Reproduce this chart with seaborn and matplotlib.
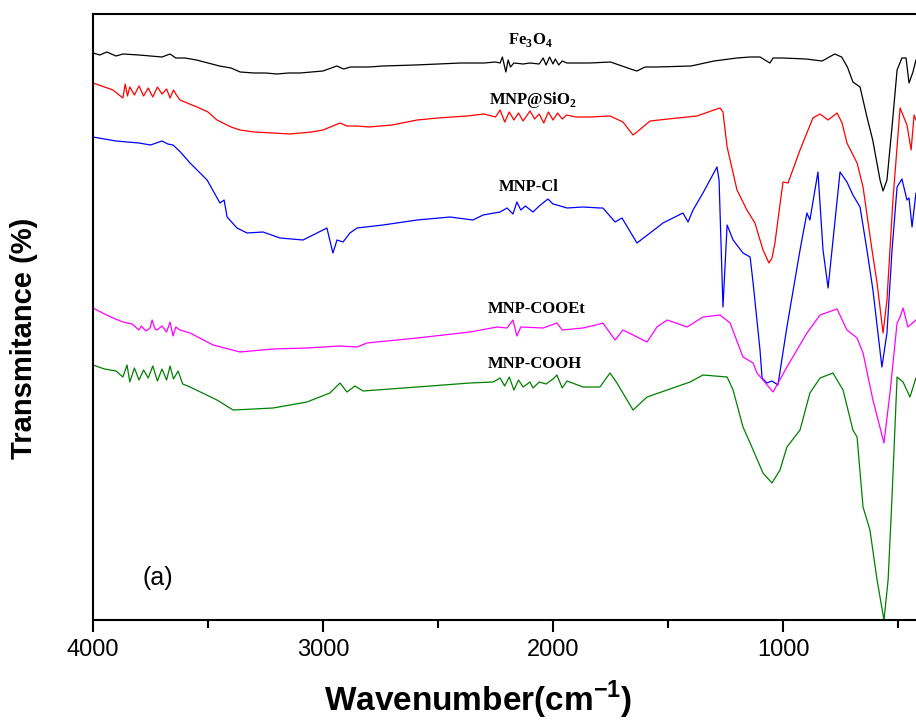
import numpy as np
import pandas as pd
import seaborn as sns
import matplotlib.pyplot as plt
from matplotlib.ticker import FixedLocator

sns.set_style("ticks")
plt.rcParams["font.family"] = ["Liberation Sans", "DejaVu Sans"]
plt.rcParams["mathtext.fontset"] = "custom"
plt.rcParams["mathtext.rm"] = "Liberation Serif:bold"
plt.rcParams["mathtext.sf"] = "Liberation Sans:bold"
for k in ["text.color", "axes.labelcolor", "xtick.color", "ytick.color", "axes.edgecolor"]:
    plt.rcParams[k] = "black"

fe3o4_wn = [4000, 3970, 3940, 3900, 3870, 3800, 3700, 3665, 3640, 3600, 3550, 3500, 3450, 3400,
            3360, 3300, 3250, 3200, 3150, 3100, 3050, 3000, 2940, 2910, 2880, 2800, 2740, 2600,
            2500, 2400, 2300, 2250, 2230, 2220, 2205, 2195, 2185, 2170, 2130, 2100, 2060, 2043,
            2030, 2015, 2000, 1990, 1975, 1960, 1940, 1870, 1840, 1750, 1700, 1650, 1635, 1600,
            1550, 1400, 1300, 1200, 1143, 1100, 1057, 1043, 1000, 900, 830, 775, 745, 720, 696,
            665, 635, 610, 578, 565, 548, 526, 504, 483, 465, 452, 435, 422]
fe3o4_t = [567, 565, 568, 564, 566, 565, 563, 566, 562, 562, 560, 557, 554, 552,
           548, 547, 547, 546, 547, 547, 548, 549, 554, 551, 553, 553, 554, 555,
           556, 557, 557, 558, 557, 563, 548, 560, 553, 557, 556, 557, 556, 562,
           555, 563, 556, 561, 555, 559, 557, 557, 557, 558, 554, 550, 549, 553,
           553, 554, 559, 562, 563, 563, 557, 562, 562, 561, 559, 566, 563, 553, 538,
           533, 503, 480, 440, 429, 440, 493, 550, 562, 562, 537, 548, 560]

sio2_wn = [4000, 3950, 3913, 3870, 3860, 3850, 3840, 3820, 3800, 3780, 3760, 3740, 3720, 3700,
           3680, 3665, 3650, 3640, 3622, 3548, 3500, 3461, 3400, 3361, 3300, 3217, 3143, 3050,
           3000, 2926, 2896, 2852, 2800, 2700, 2591, 2500, 2374, 2300, 2250, 2230, 2210, 2190,
           2170, 2150, 2130, 2100, 2080, 2060, 2040, 2020, 2000, 1980, 1960, 1940, 1900, 1839,
           1752, 1696, 1652, 1635, 1578, 1500, 1374, 1300, 1274, 1261, 1243, 1200, 1157, 1122,
           1087, 1061, 1048, 1035, 1022, 1000, 978, 926, 870, 839, 804, 765, 743, 722, 678, 652,
           613, 591, 565, 548, 535, 522, 491, 461, 443, 430, 422]
sio2_t = [537, 533, 530, 522, 536, 524, 533, 525, 534, 524, 532, 523, 533, 526,
          531, 522, 530, 526, 520, 513, 508, 500, 493, 490, 488, 487, 486, 488,
          490, 497, 494, 494, 493, 495, 500, 502, 504, 506, 503, 510, 498, 508,
          500, 507, 499, 509, 501, 506, 497, 508, 500, 507, 501, 505, 503, 503,
          504, 498, 485, 488, 499, 501, 504, 510, 512, 508, 473, 430, 410, 397,
          370, 357, 362, 377, 400, 438, 437, 470, 502, 506, 500, 507, 497, 477, 457, 433,
          370, 337, 287, 320, 370, 420, 512, 495, 470, 505, 500]

cl_wn = [4000, 3950, 3900, 3850, 3800, 3750, 3700, 3675, 3652, 3620, 3578, 3504, 3448, 3430,
         3417, 3374, 3330, 3261, 3187, 3087, 3000, 2983, 2957, 2939, 2913, 2883, 2852, 2739,
         2591, 2448, 2348, 2304, 2230, 2200, 2174, 2157, 2140, 2120, 2087, 2060, 2022, 2000,
         1983, 1939, 1870, 1796, 1783, 1730, 1700, 1635, 1578, 1522, 1435, 1413, 1391, 1348,
         1287, 1278, 1261, 1243, 1217, 1174, 1143, 1130, 1100, 1091, 1070, 1048, 1022, 983,
         926, 896, 883, 848, 826, 804, 787, 752, 722, 696, 665, 635, 609, 570, 548, 526, 504,
         483, 461, 452, 439, 422]
cl_t = [483, 481, 479, 478, 477, 475, 479, 476, 475, 468, 457, 440, 417, 420,
        403, 392, 387, 388, 382, 380, 390, 392, 367, 380, 378, 387, 392, 395,
        400, 403, 400, 405, 408, 412, 406, 418, 410, 414, 408, 414, 421, 416,
        415, 412, 413, 412, 412, 398, 402, 377, 387, 397, 407, 398, 410, 427,
        453, 440, 313, 395, 380, 367, 363, 337, 270, 242, 237, 239, 235, 293,
        370, 407, 400, 448, 370, 332, 370, 448, 438, 425, 413, 370, 330, 253, 287, 370, 433,
        441, 420, 422, 393, 427]

cooet_wn = [4000, 3950, 3913, 3870, 3830, 3800, 3790, 3770, 3752, 3743, 3730, 3722, 3700, 3680,
            3665, 3652, 3640, 3622, 3578, 3478, 3361, 3217, 3070, 2926, 2852, 2809, 2591, 2361,
            2243, 2200, 2174, 2157, 2140, 2043, 1983, 1960, 1870, 1796, 1783, 1730, 1696, 1652,
            1591, 1548, 1504, 1417, 1348, 1274, 1230, 1174, 1130, 1113, 1043, 983, 896, 839,
            765, 722, 678, 652, 609, 561, 535, 504, 491, 478, 457, 422]
cooet_t = [312, 306, 302, 298, 296, 290, 294, 289, 292, 300, 291, 290, 294, 288,
           298, 284, 293, 290, 287, 275, 268, 271, 272, 274, 273, 277, 282, 288,
           293, 292, 300, 284, 293, 292, 297, 290, 292, 296, 297, 280, 290, 285,
           278, 293, 300, 293, 303, 305, 297, 263, 257, 247, 228, 253, 287, 305,
           311, 290, 282, 267, 220, 177, 227, 297, 303, 312, 293, 300]

cooh_wn = [4000, 3950, 3900, 3870, 3852, 3840, 3820, 3800, 3780, 3760, 3740, 3720, 3700, 3680,
           3665, 3650, 3630, 3610, 3578, 3461, 3391, 3300, 3217, 3070, 2970, 2926, 2896, 2861,
           2826, 2591, 2361, 2260, 2230, 2210, 2190, 2170, 2150, 2130, 2100, 2087, 2060, 2030,
           2000, 1983, 1960, 1939, 1870, 1796, 1752, 1722, 1652, 1591, 1504, 1404, 1348, 1243,
           1217, 1174, 1143, 1087, 1048, 1013, 983, 926, 883, 839, 783, 739, 696, 678, 652, 622,
           591, 561, 543, 526, 504, 478, 448, 422]
cooh_t = [255, 251, 249, 243, 255, 238, 252, 240, 250, 242, 254, 239, 251, 240,
          254, 241, 249, 236, 233, 220, 210, 211, 212, 218, 227, 237, 228, 234,
          229, 233, 237, 238, 242, 234, 243, 230, 240, 233, 238, 232, 238, 236,
          241, 245, 232, 239, 233, 233, 247, 237, 210, 223, 230, 238, 245, 243,
          230, 193, 177, 147, 137, 150, 173, 190, 227, 242, 247, 230, 190, 183, 113, 90,
          40, 0, 40, 123, 243, 238, 223, 242]

muestras = ["Fe3O4", "MNP@SiO2", "MNP-Cl", "MNP-COOEt", "MNP-COOH"]
colores = ["black", "red", "blue", "magenta", "#008000"]
etiquetas = ["Fe$_\\mathrm{3}$O$_\\mathrm{4}$", "MNP@SiO$_\\mathrm{2}$", "MNP-Cl",
             "MNP-COOEt", "MNP-COOH"]
etiqueta_wn = [2100, 2087, 2104, 2070, 2078]
etiqueta_t = [580, 520, 433, 311, 256]

series = [(fe3o4_wn, fe3o4_t), (sio2_wn, sio2_t), (cl_wn, cl_t),
          (cooet_wn, cooet_t), (cooh_wn, cooh_t)]
datos = pd.concat([
    pd.DataFrame({"muestra": m, "wn": wn, "t": t})
    for m, (wn, t) in zip(muestras, series)
], ignore_index=True)

# ---- figura ----
fig = plt.figure(figsize=(9.16, 7.24), dpi=100)
ax = fig.add_axes([93 / 916, 104 / 724, 828 / 916, 606 / 724])

sns.lineplot(data=datos, x="wn", y="t", hue="muestra", hue_order=muestras,
             palette=colores, linewidth=0.9, legend=False, ax=ax)

for txt, x, y in zip(etiquetas, etiqueta_wn, etiqueta_t):
    ax.text(x, y, txt, ha="center", va="center", fontsize=12,
            family="Liberation Serif", fontweight="bold")
ax.text(3717, 42, "(a)", ha="center", va="center", fontsize=18)

ax.set_xlim(4000, 400)
ax.set_ylim(0, 606)
ax.xaxis.set_major_locator(FixedLocator([4000, 3000, 2000, 1000]))
ax.xaxis.set_minor_locator(FixedLocator([3500, 2500, 1500, 500]))
ax.set_yticks([])
ax.tick_params(axis="x", which="major", direction="out", length=8.5, width=1.5,
               labelsize=17, pad=5, top=False)
ax.tick_params(axis="x", which="minor", direction="out", length=5.5, width=1.5, top=False)
for s in ax.spines.values():
    s.set_linewidth(1.5)

ax.set_xlabel("Wavenumber(cm$^{\\mathsf{-1}}$)", fontsize=24, fontweight="bold")
ax.set_ylabel("Transmitance (%)", fontsize=21, fontweight="bold")
ax.xaxis.set_label_coords(0.465, -0.132)
ax.xaxis.label.set_va("center")
ax.yaxis.set_label_coords(-0.0833, 0.465)
ax.yaxis.label.set_va("center")

fig.savefig("out.png", dpi=100)
